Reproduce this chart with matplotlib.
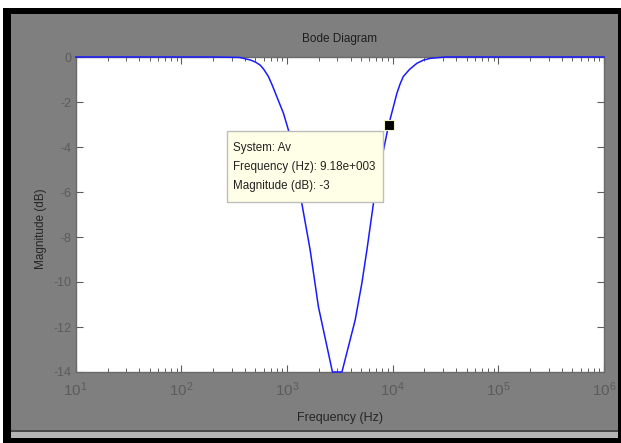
import math
import matplotlib
matplotlib.use("Agg")
import matplotlib.pyplot as plt
from matplotlib.patches import Rectangle
from matplotlib.ticker import FuncFormatter, LogLocator

plt.rcParams['font.family'] = ['Liberation Sans', 'DejaVu Sans']
plt.rcParams['mathtext.fontset'] = 'custom'
plt.rcParams['mathtext.rm'] = 'Liberation Sans'
plt.rcParams['axes.unicode_minus'] = False

# magnitude response
freq_hz = [10, 200, 355, 448, 500, 557, 603, 667, 724, 800, 925, 1030, 1380,
           1656, 1982, 2466, 2690, 2951, 3310, 4416, 5105, 5702, 6577, 8185,
           9180, 10965, 11750, 12589, 14450, 16943, 19500, 22646, 31623, 1e6]
mag_db = [0, 0, -0.02, -0.13, -0.22, -0.36, -0.55, -0.87, -1.25, -1.76, -2.5,
          -3.24, -6.5, -8.58, -11.1, -13.17, -14.0, -14.0, -14.0, -11.69,
          -10.06, -8.58, -6.5, -4.13, -3.0, -1.61, -1.2, -0.87, -0.55, -0.28,
          -0.14, -0.06, 0, 0]

tip_freq = 9180
tip_mag = -3
tip_lines = ["System: Av", "Frequency (Hz): 9.18e+003", "Magnitude (dB): -3"]
y_ticks = [0, -2, -4, -6, -8, -10, -12, -14]

W, H = 621, 443
fig = plt.figure(figsize=(W / 100, H / 100), dpi=100, facecolor='white')

def px_rect(x0, top, x1, bottom, color):
    fig.patches.append(Rectangle((x0 / W, 1 - bottom / H), (x1 - x0) / W,
                                 (bottom - top) / H, transform=fig.transFigure,
                                 facecolor=color, edgecolor='none', zorder=-10))

px_rect(3, 8, 621, 443, 'black')
px_rect(11, 14, 618, 430, '#7f7f7f')
px_rect(11, 430, 618, 432, '#4a4a4a')
px_rect(11, 432, 618, 438, '#b5b5b5')

ax = fig.add_axes([75.7 / W, 71 / H, 528.3 / W, 315 / H])
ax.set_facecolor('white')

ax.semilogx(freq_hz, mag_db, color='#1a1aff', lw=1.1, clip_on=False, zorder=3)
ax.plot([tip_freq], [tip_mag], 's', color='black', ms=7, mec='#f2f2c8',
        mew=0.8, zorder=6)

ax.set_xlim(10, 1e6)
ax.set_ylim(-14, 0)
ax.set_yticks(y_ticks)
ax.xaxis.set_major_locator(LogLocator(base=10, numticks=10))
ax.xaxis.set_major_formatter(FuncFormatter(
    lambda v, p: r'$\mathregular{10^{%d}}$' % round(math.log10(v))))

grey = '#5c5c5c'
ax.tick_params(which='both', direction='in', top=True, right=True,
               colors=grey, labelsize=9)
ax.tick_params(which='major', length=5, width=0.8)
ax.tick_params(which='minor', length=3, width=0.7)
ax.tick_params(axis='x', which='major', pad=6, labelsize=11)
ax.tick_params(axis='y', pad=3)
for s in ax.spines.values():
    s.set_color('#6a6a6a')
    s.set_linewidth(1.0)

ax.set_title('Bode Diagram', fontsize=8.5, color='#1e1e1e', pad=11)
ax.set_xlabel('Frequency (Hz)', fontsize=9, color='#262626')
ax.set_ylabel('Magnitude (dB)', fontsize=8.5, color='#262626')
ax.xaxis.set_label_coords(0.5, -0.128)
ax.yaxis.set_label_coords(-0.055, 0.455)

# data tip box
ax.add_patch(Rectangle((0.287, 0.541), 0.295, 0.225, transform=ax.transAxes,
                       facecolor='#ffffe8', edgecolor='#bdbdbd', lw=1.0,
                       zorder=5, clip_on=False))
for i, line in enumerate(tip_lines):
    ax.text(0.297, 0.711 - i * 0.06, line, transform=ax.transAxes,
            fontsize=8.4, color='#222222', va='center', ha='left', zorder=7)

fig.savefig('out.png', dpi=100, facecolor=fig.get_facecolor())
